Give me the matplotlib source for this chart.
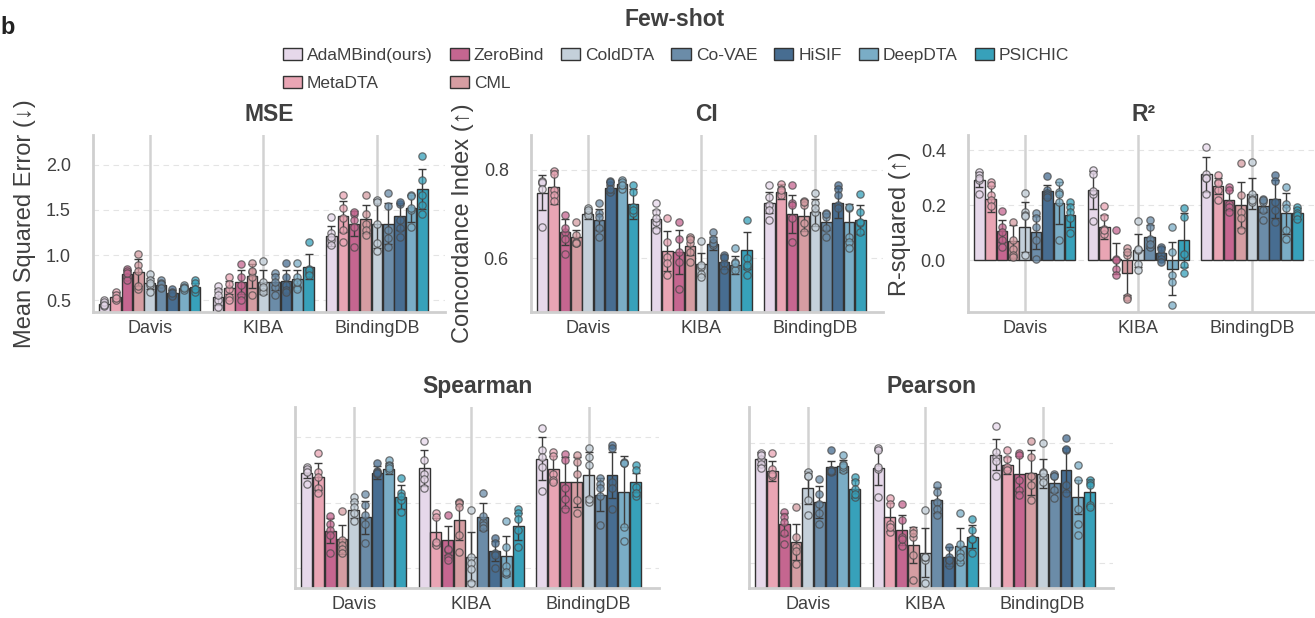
import numpy as np
import matplotlib
matplotlib.use("Agg")
import matplotlib.pyplot as plt
from matplotlib.patches import Patch

plt.rcParams["font.family"] = ["Liberation Sans", "DejaVu Sans"]

DATASETS = ["Davis", "KIBA", "BindingDB"]
MODELS = ["AdaMBind(ours)", "MetaDTA", "ZeroBind", "CML", "ColdDTA",
          "Co-VAE", "HiSIF", "DeepDTA", "PSICHIC"]
COLORS = ["#E6D8EA", "#E9A5B4", "#C56690", "#D59DA2", "#C4D0DA",
          "#6B8CA8", "#476D91", "#7AADC6", "#37A1BA"]

# ---- MSE (rows: Davis, KIBA, BindingDB; cols: models) ----
MSE_MEAN = [[0.46, 0.54, 0.79, 0.81, 0.69, 0.67, 0.58, 0.64, 0.65],
            [0.54, 0.64, 0.70, 0.77, 0.70, 0.70, 0.71, 0.74, 0.87],
            [1.21, 1.43, 1.35, 1.40, 1.35, 1.35, 1.43, 1.52, 1.73]]
MSE_SD = [[0.02, 0.05, 0.04, 0.15, 0.06, 0.03, 0.03, 0.02, 0.04],
          [0.09, 0.07, 0.13, 0.13, 0.13, 0.09, 0.12, 0.09, 0.14],
          [0.11, 0.17, 0.14, 0.16, 0.27, 0.23, 0.15, 0.15, 0.22]]
MSE_PTS = [[[0.50, 0.46, 0.44, 0.48, 0.45], [0.59, 0.53, 0.50, 0.56, 0.52],
            [0.85, 0.82, 0.76, 0.72, 0.80], [1.01, 0.89, 0.82, 0.63, 0.66],
            [0.79, 0.72, 0.67, 0.59, 0.69], [0.72, 0.69, 0.65, 0.68, 0.64],
            [0.63, 0.59, 0.56, 0.55, 0.58], [0.67, 0.64, 0.61, 0.65, 0.64],
            [0.72, 0.69, 0.63, 0.59, 0.63]],
           [[0.66, 0.60, 0.50, 0.43, 0.56], [0.76, 0.63, 0.54, 0.50, 0.68],
            [0.90, 0.76, 0.67, 0.56, 0.50], [0.91, 0.81, 0.76, 0.56, 0.82],
            [0.93, 0.70, 0.63, 0.59, 0.65], [0.80, 0.76, 0.65, 0.56, 0.70],
            [0.91, 0.76, 0.67, 0.61, 0.59], [0.91, 0.76, 0.65, 0.63, 0.70],
            [1.15, 0.85, 0.80, 0.83, 0.78]],
           [[1.42, 1.24, 1.17, 1.11, 1.20], [1.67, 1.52, 1.41, 1.28, 1.15],
            [1.46, 1.39, 1.31, 1.09, 1.48], [1.67, 1.46, 1.35, 1.28, 1.22],
            [1.61, 1.35, 1.13, 1.04, 1.59], [1.69, 1.54, 1.28, 1.19, 1.09],
            [1.57, 1.39, 1.30, 1.20, 1.59], [1.67, 1.50, 1.31, 1.66, 1.52],
            [2.10, 1.83, 1.67, 1.56, 1.46]]]

# ---- CI ----
CI_MEAN = [[0.749, 0.761, 0.660, 0.648, 0.700, 0.688, 0.760, 0.768, 0.723],
           [0.689, 0.617, 0.615, 0.628, 0.587, 0.633, 0.592, 0.586, 0.618],
           [0.726, 0.751, 0.700, 0.696, 0.704, 0.683, 0.725, 0.682, 0.688]]
CI_SD = [[0.040, 0.039, 0.030, 0.017, 0.011, 0.024, 0.013, 0.009, 0.034],
         [0.021, 0.045, 0.049, 0.020, 0.026, 0.015, 0.015, 0.020, 0.042],
         [0.024, 0.017, 0.043, 0.035, 0.030, 0.019, 0.034, 0.042, 0.032]]
CI_PTS = [[[0.775, 0.770, 0.772, 0.672, 0.756], [0.798, 0.791, 0.755, 0.743, 0.730],
           [0.698, 0.660, 0.645, 0.611, 0.668], [0.683, 0.653, 0.634, 0.638, 0.634],
           [0.715, 0.702, 0.706, 0.698, 0.709], [0.726, 0.702, 0.668, 0.649, 0.694],
           [0.774, 0.766, 0.751, 0.772, 0.758], [0.777, 0.768, 0.757, 0.772, 0.766],
           [0.766, 0.751, 0.717, 0.702, 0.709]],
          [[0.725, 0.706, 0.683, 0.664, 0.691], [0.692, 0.638, 0.604, 0.589, 0.562],
           [0.683, 0.645, 0.615, 0.592, 0.532], [0.649, 0.634, 0.615, 0.592, 0.645],
           [0.640, 0.581, 0.566, 0.558, 0.585], [0.660, 0.638, 0.630, 0.634, 0.645],
           [0.608, 0.600, 0.589, 0.574, 0.604], [0.624, 0.592, 0.581, 0.574, 0.589],
           [0.688, 0.581, 0.562, 0.600, 0.585]],
          [[0.766, 0.740, 0.721, 0.709, 0.687], [0.768, 0.758, 0.751, 0.743, 0.755],
           [0.766, 0.725, 0.691, 0.638, 0.721], [0.730, 0.721, 0.679, 0.660, 0.728],
           [0.747, 0.725, 0.706, 0.672, 0.713], [0.702, 0.694, 0.668, 0.649, 0.700],
           [0.766, 0.757, 0.721, 0.713, 0.743], [0.713, 0.649, 0.638, 0.623, 0.717],
           [0.745, 0.706, 0.679, 0.660, 0.683]]]

# ---- R2 ----
R2_MEAN = [[0.293, 0.222, 0.107, 0.069, 0.121, 0.101, 0.251, 0.208, 0.164],
           [0.255, 0.121, 0.006, -0.048, 0.036, 0.085, 0.027, -0.030, 0.073],
           [0.312, 0.270, 0.218, 0.202, 0.242, 0.198, 0.222, 0.170, 0.170]]
R2_SD = [[0.027, 0.048, 0.040, 0.059, 0.091, 0.061, 0.024, 0.075, 0.042],
         [0.070, 0.042, 0.055, 0.079, 0.061, 0.042, 0.021, 0.097, 0.097],
         [0.063, 0.030, 0.036, 0.084, 0.055, 0.022, 0.070, 0.073, 0.021]]
R2_PTS = [[[0.321, 0.309, 0.293, 0.242, 0.300], [0.285, 0.273, 0.236, 0.218, 0.196],
           [0.179, 0.121, 0.103, 0.073, 0.048], [0.139, 0.073, 0.042, 0.018, 0.012],
           [0.245, 0.176, 0.164, 0.018, 0.160], [0.170, 0.152, 0.121, 0.073, 0.004],
           [0.305, 0.255, 0.245, 0.236, 0.230], [0.285, 0.248, 0.212, 0.073, 0.240],
           [0.212, 0.194, 0.176, 0.152, 0.099]],
          [[0.327, 0.315, 0.242, 0.142, 0.250], [0.196, 0.158, 0.115, 0.097, 0.110],
           [0.109, 0.006, -0.030, -0.055, 0.000], [0.045, 0.018, -0.133, -0.139, 0.030],
           [0.142, 0.036, -0.012, -0.036, 0.040], [0.148, 0.121, 0.079, 0.048, 0.060],
           [0.048, 0.024, 0.006, -0.006, 0.040], [0.121, 0.030, -0.055, -0.079, -0.164],
           [0.188, 0.158, 0.024, -0.018, -0.048]],
          [[0.412, 0.315, 0.297, 0.242, 0.300], [0.309, 0.285, 0.255, 0.218, 0.280],
           [0.267, 0.255, 0.206, 0.194, 0.176], [0.352, 0.236, 0.176, 0.152, 0.109],
           [0.358, 0.242, 0.224, 0.212, 0.220], [0.221, 0.212, 0.182, 0.148, 0.220],
           [0.309, 0.288, 0.212, 0.182, 0.139], [0.267, 0.206, 0.109, 0.079, 0.190],
           [0.194, 0.182, 0.172, 0.164, 0.150]]]

# ---- Spearman ----
SP_MEAN = [[0.546, 0.540, 0.457, 0.444, 0.489, 0.478, 0.546, 0.552, 0.509],
           [0.553, 0.455, 0.443, 0.473, 0.418, 0.479, 0.426, 0.419, 0.464],
           [0.567, 0.551, 0.531, 0.532, 0.543, 0.512, 0.543, 0.517, 0.531]]
SP_SD = [[0.008, 0.021, 0.019, 0.022, 0.013, 0.025, 0.010, 0.008, 0.018],
         [0.028, 0.021, 0.022, 0.030, 0.038, 0.020, 0.015, 0.030, 0.021],
         [0.033, 0.020, 0.039, 0.038, 0.034, 0.025, 0.035, 0.054, 0.014]]
SP_PTS = [[[0.554, 0.549, 0.528, 0.552, 0.547], [0.576, 0.547, 0.540, 0.522, 0.515],
           [0.480, 0.468, 0.458, 0.451, 0.424], [0.488, 0.443, 0.435, 0.429, 0.424],
           [0.509, 0.501, 0.494, 0.484, 0.472], [0.513, 0.496, 0.481, 0.468, 0.438],
           [0.561, 0.549, 0.544, 0.547, 0.545], [0.565, 0.558, 0.550, 0.556, 0.553],
           [0.538, 0.515, 0.504, 0.486, 0.510]],
          [[0.594, 0.565, 0.544, 0.536, 0.523], [0.484, 0.478, 0.438, 0.435, 0.440],
           [0.481, 0.428, 0.418, 0.413, 0.430], [0.501, 0.499, 0.494, 0.451, 0.425],
           [0.489, 0.418, 0.408, 0.399, 0.378], [0.515, 0.471, 0.466, 0.461, 0.480],
           [0.446, 0.438, 0.423, 0.401, 0.420], [0.472, 0.433, 0.404, 0.392, 0.395],
           [0.490, 0.484, 0.475, 0.458, 0.433]],
          [[0.614, 0.554, 0.518, 0.580, 0.570], [0.577, 0.572, 0.544, 0.534, 0.532],
           [0.574, 0.565, 0.522, 0.506, 0.491], [0.573, 0.562, 0.544, 0.504, 0.484],
           [0.583, 0.570, 0.557, 0.501, 0.505], [0.537, 0.529, 0.522, 0.510, 0.466],
           [0.588, 0.584, 0.532, 0.522, 0.490], [0.562, 0.463, 0.442, 0.560, 0.560],
           [0.557, 0.550, 0.524, 0.511, 0.515]]]

# ---- Pearson ----
PE_MEAN = [[0.574, 0.554, 0.465, 0.435, 0.526, 0.502, 0.560, 0.562, 0.524],
           [0.559, 0.477, 0.455, 0.430, 0.418, 0.505, 0.411, 0.429, 0.444],
           [0.581, 0.563, 0.549, 0.551, 0.549, 0.534, 0.555, 0.510, 0.518]]
PE_SD = [[0.011, 0.017, 0.018, 0.030, 0.028, 0.026, 0.011, 0.010, 0.015],
         [0.029, 0.023, 0.025, 0.030, 0.040, 0.022, 0.016, 0.029, 0.019],
         [0.026, 0.014, 0.029, 0.037, 0.024, 0.015, 0.036, 0.028, 0.022]]
PE_PTS = [[[0.583, 0.574, 0.566, 0.559, 0.580], [0.583, 0.557, 0.549, 0.546, 0.548],
           [0.486, 0.477, 0.469, 0.450, 0.433], [0.494, 0.444, 0.428, 0.399, 0.420],
           [0.552, 0.546, 0.505, 0.480, 0.545], [0.541, 0.516, 0.499, 0.483, 0.466],
           [0.588, 0.555, 0.552, 0.556, 0.553], [0.580, 0.566, 0.555, 0.560, 0.564],
           [0.544, 0.535, 0.524, 0.510, 0.515]],
          [[0.591, 0.557, 0.510, 0.588, 0.560], [0.509, 0.499, 0.466, 0.452, 0.460],
           [0.498, 0.472, 0.444, 0.429, 0.440], [0.455, 0.444, 0.414, 0.372, 0.450],
           [0.488, 0.406, 0.367, 0.410, 0.410], [0.530, 0.519, 0.502, 0.491, 0.480],
           [0.428, 0.406, 0.397, 0.410, 0.405], [0.483, 0.433, 0.417, 0.403, 0.410],
           [0.473, 0.455, 0.441, 0.418, 0.440]],
          [[0.628, 0.577, 0.571, 0.545, 0.585], [0.589, 0.574, 0.557, 0.560, 0.555],
           [0.583, 0.538, 0.522, 0.513, 0.580], [0.604, 0.577, 0.546, 0.530, 0.505],
           [0.600, 0.552, 0.544, 0.535, 0.550], [0.549, 0.546, 0.522, 0.508, 0.545],
           [0.608, 0.588, 0.530, 0.517, 0.590], [0.563, 0.538, 0.466, 0.447, 0.490],
           [0.539, 0.533, 0.497, 0.494, 0.530]]]

TXT = "#404040"
W, H = 1315, 618


def px_axes(fig, left, top, width, height):
    return fig.add_axes([left / W, 1 - (top + height) / H, width / W, height / H])


def draw_panel(ax, means, sds, pts, title, ylim, yticks, ylabel=None, show_yt=True):
    ax.set_xlim(-0.5, 2.6)
    ax.set_ylim(*ylim)
    for s in ("top", "right"):
        ax.spines[s].set_visible(False)
    for s in ("left", "bottom"):
        ax.spines[s].set_color("#cfcfcf")
        ax.spines[s].set_linewidth(2)
    for yt in yticks:
        ax.axhline(yt, color="#e4e4e4", lw=0.8, ls=(0, (5, 4)), zorder=0)
    for i in range(len(DATASETS)):
        ax.axvline(i, color="#d2d2d2", lw=1.8, zorder=0)
    slot = 0.1
    for i in range(len(DATASETS)):
        for j, c in enumerate(COLORS):
            x = i + (j - 4) * slot
            ax.bar(x, means[i][j], width=slot * 0.93, color=c,
                   edgecolor="#333333", linewidth=1.0, zorder=2)
            ax.errorbar(x, means[i][j], yerr=sds[i][j], fmt="none",
                        ecolor="#3c3c3c", elinewidth=1.0, capsize=3.2,
                        capthick=1.0, zorder=3)
            ax.scatter([x] * len(pts[i][j]), pts[i][j], s=28, facecolor=c,
                       edgecolor="#4a4a4a", linewidth=0.9, alpha=0.75, zorder=4)
    ax.set_xticks(range(len(DATASETS)))
    ax.set_xticklabels(DATASETS)
    ax.set_yticks(yticks)
    if not show_yt:
        ax.set_yticklabels([])
    ax.tick_params(length=0, labelsize=13, colors=TXT, pad=6)
    ax.tick_params(axis="y", pad=16)
    ax.set_title(title, fontsize=16.5, fontweight="bold", color=TXT, pad=10)
    if ylabel:
        ax.set_ylabel(ylabel, fontsize=17, color=TXT, labelpad=7)
    ax.set_facecolor("none")


fig = plt.figure(figsize=(W / 100, H / 100), dpi=100)

ax1 = px_axes(fig, 93, 135, 352, 177)
draw_panel(ax1, MSE_MEAN, MSE_SD, MSE_PTS, "MSE", (0.37, 2.33),
           [0.5, 1.0, 1.5, 2.0], "Mean Squared Error (↓)")
ax1.set_yticklabels(["0.5", "1.0", "1.5", "2.0"])

ax2 = px_axes(fig, 531, 135, 352, 177)
draw_panel(ax2, CI_MEAN, CI_SD, CI_PTS, "CI", (0.479, 0.879),
           [0.6, 0.8], "Concordance Index (↑)")
ax2.set_yticklabels(["0.6", "0.8"])

ax3 = px_axes(fig, 968, 135, 352, 177)
draw_panel(ax3, R2_MEAN, R2_SD, R2_PTS, "R²", (-0.188, 0.455),
           [0.0, 0.2, 0.4], "R-squared (↑)")
ax3.set_yticklabels(["0.0", "0.2", "0.4"])

ax4 = px_axes(fig, 295, 407, 364, 181)
draw_panel(ax4, SP_MEAN, SP_SD, SP_PTS, "Spearman", (0.370, 0.646),
           [0.4, 0.5, 0.6], show_yt=False)

ax5 = px_axes(fig, 749, 407, 364, 181)
draw_panel(ax5, PE_MEAN, PE_SD, PE_PTS, "Pearson", (0.359, 0.660),
           [0.4, 0.5, 0.6], show_yt=False)

# legend is filled column by column, so model order gives the reference layout
handles = [Patch(facecolor=c, edgecolor="#333333", linewidth=1.0, label=m)
           for m, c in zip(MODELS, COLORS)]
fig.legend(handles=handles, loc="upper center", ncol=7,
           bbox_to_anchor=(676 / W, 1 - 39 / H), frameon=False,
           fontsize=12.5, handlelength=1.1, handleheight=0.7,
           handletextpad=0.3, columnspacing=0.97, labelspacing=0.75,
           borderpad=0, labelcolor=TXT)

fig.text(675 / W, 1 - 20 / H, "Few-shot", ha="center", va="center",
         fontsize=16.5, fontweight="bold", color=TXT)
fig.text(0.5 / W, 1 - 28 / H, "b", ha="left", va="center",
         fontsize=17, fontweight="bold", color="#222222")

fig.savefig("out.png", dpi=100)
